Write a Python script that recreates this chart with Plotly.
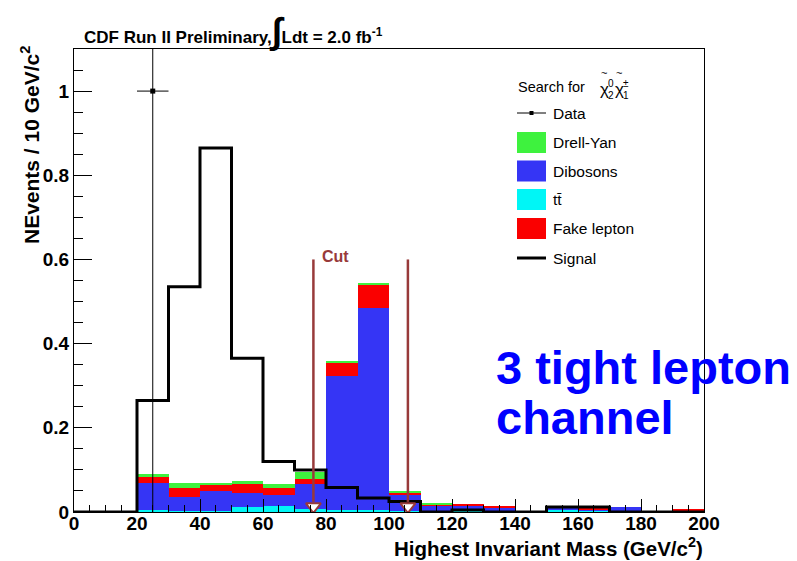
import plotly.graph_objects as go

# Histogram binning: 20 bins of 10 GeV/c^2 from 0 to 200
bin_edges = [0, 10, 20, 30, 40, 50, 60, 70, 80, 90, 100,
             110, 120, 130, 140, 150, 160, 170, 180, 190, 200]
bin_centers = [5, 15, 25, 35, 45, 55, 65, 75, 85, 95,
               105, 115, 125, 135, 145, 155, 165, 175, 185, 195]

# Stacked backgrounds (events / 10 GeV/c^2)
ttbar = [0, 0, 0.004, 0.003, 0.003, 0.012, 0.014, 0.008, 0.004, 0.004,
         0.003, 0.002, 0.005, 0.001, 0, 0.004, 0.002, 0.001, 0, 0]
dibosons = [0, 0, 0.064, 0.033, 0.047, 0.032, 0.026, 0.059, 0.320, 0.481,
            0.037, 0.013, 0.010, 0.010, 0, 0.007, 0.005, 0.011, 0, 0]
fake_lepton = [0, 0, 0.014, 0.022, 0.015, 0.022, 0.018, 0.011, 0.031, 0.055,
               0.007, 0.001, 0.004, 0.003, 0, 0, 0.001, 0, 0, 0.006]
drell_yan = [0, 0, 0.008, 0.010, 0.002, 0.008, 0.008, 0.018, 0.002, 0.005,
             0.001, 0.006, 0.0, 0.0, 0, 0, 0, 0, 0, 0]

# Signal expectation
signal = [0, 0, 0.265, 0.535, 0.865, 0.365, 0.12, 0.10, 0.058, 0.033,
          0.025, 0.0, 0.005, 0.0, 0.0, 0.012, 0.012, 0, 0, 0]

# Observed data
data_x = [25]
data_y = [1.0]
data_xerr = [5]
data_yerr_up = [1.5]
data_yerr_down = [1.0]

# Mass window cut
cut_values = [76, 106]
cut_top = 0.6

x_ticks = [0, 20, 40, 60, 80, 100, 120, 140, 160, 180, 200]
y_ticks = [0, 0.2, 0.4, 0.6, 0.8, 1.0]
y_tick_labels = ["0", "0.2", "0.4", "0.6", "0.8", "1"]

C_GREEN = "#3ef23e"
C_BLUE = "#3535f5"
C_CYAN = "#00f6f6"
C_RED = "#fa0000"
C_CUT = "#983a3a"
FONT = "Liberation Sans, Arial, sans-serif"

W, H = 797, 561
L, R, T, B = 74, 93, 49, 49
PW, PH = W - L - R, H - T - B


def px(x):
    return (x - L) / PW


def py(y):
    return (H - B - y) / PH


def label(x, y, text, size, color="black", xanchor="left", yanchor="middle", **kw):
    return dict(x=px(x), y=py(y), xref="paper", yref="paper", xanchor=xanchor,
                yanchor=yanchor, text=text, showarrow=False,
                font=dict(family=FONT, size=size, color=color), **kw)


fig = go.Figure()

for vals, col, name in [(ttbar, C_CYAN, "tt̄"), (dibosons, C_BLUE, "Dibosons"),
                        (fake_lepton, C_RED, "Fake lepton"),
                        (drell_yan, C_GREEN, "Drell-Yan")]:
    fig.add_trace(go.Bar(x=bin_centers, y=vals, width=10, name=name,
                         marker=dict(color=col, line=dict(width=0)),
                         showlegend=False))

# Signal as a step histogram
fig.add_trace(go.Scatter(x=bin_edges, y=signal + [signal[-1]], mode="lines",
                         line=dict(color="black", width=3, shape="hv"),
                         showlegend=False))

# Data point with error bars
fig.add_trace(go.Scatter(
    x=data_x, y=data_y, mode="markers",
    marker=dict(symbol="square", size=5, color="black"),
    error_x=dict(type="data", array=data_xerr, width=0, thickness=1, color="black"),
    error_y=dict(type="data", array=data_yerr_up, arrayminus=data_yerr_down,
                 width=0, thickness=1, color="black"),
    showlegend=False))

# Cut arrows
for c in cut_values:
    fig.add_trace(go.Scatter(x=[c, c], y=[cut_top, 0.024], mode="lines",
                             line=dict(color=C_CUT, width=2.5), showlegend=False))
    fig.add_trace(go.Scatter(x=[c], y=[0.013], mode="markers",
                             marker=dict(symbol="triangle-down", size=13, color="white",
                                         line=dict(color=C_CUT, width=2)),
                             showlegend=False))

annotations = [
    dict(x=sum(cut_values) / 2 - 8, y=cut_top + 0.007, xref="x", yref="y",
         text="<b>Cut</b>", showarrow=False, xanchor="center", yanchor="middle",
         font=dict(family=FONT, size=16, color=C_CUT)),
    label(82, 30, "<b>CDF Run II Preliminary,<span style='font-size:36px'>∫</span>"
                  "Ldt = 2.0 fb<sup>-1</sup></b>", 17),
    label(30, 44, "<b>NEvents / 10 GeV/c<sup>2</sup></b>", 21,
          xanchor="center", yanchor="top", textangle=-90),
    label(704, 547, "<b>Highest Invariant Mass (GeV/c<sup>2</sup>)</b>", 20.5,
          xanchor="right", borderpad=0),
    label(494, 367, "<b>3 tight lepton</b>", 47, color="#0000ff"),
    label(494, 417, "<b>channel</b>", 47, color="#0000ff"),
    # Legend header: Search for chi~0_2 chi~+-_1
    label(516, 87, "Search for", 14.5),
    label(604, 90, "χ", 17, xanchor="center"),
    label(604, 73, "~", 11, xanchor="center"),
    label(611, 83, "0", 10, xanchor="center"),
    label(611, 95, "2", 10, xanchor="center"),
    label(619, 90, "χ", 17, xanchor="center"),
    label(619, 73, "~", 11, xanchor="center"),
    label(626, 83, "±", 10, xanchor="center"),
    label(626, 95, "1", 10, xanchor="center"),
]

shapes = []
# Legend entries
legend_rows = [("Data", 113, "data"), ("Drell-Yan", 142.5, C_GREEN),
               ("Dibosons", 171, C_BLUE), ("tt̄", 199.5, C_CYAN),
               ("Fake lepton", 228.5, C_RED), ("Signal", 258, "signal")]
for text, yc, kind in legend_rows:
    annotations.append(label(551, yc, text, 15.5))
    if kind == "data":
        shapes.append(dict(type="line", xref="paper", yref="paper",
                           x0=px(517), x1=px(546), y0=py(yc), y1=py(yc),
                           line=dict(color="black", width=1)))
        shapes.append(dict(type="rect", xref="paper", yref="paper",
                           x0=px(529.5), x1=px(533.5), y0=py(yc + 2), y1=py(yc - 2),
                           fillcolor="black", line=dict(width=0)))
    elif kind == "signal":
        shapes.append(dict(type="line", xref="paper", yref="paper",
                           x0=px(517), x1=px(546), y0=py(yc), y1=py(yc),
                           line=dict(color="black", width=3)))
    else:
        shapes.append(dict(type="rect", xref="paper", yref="paper",
                           x0=px(517), x1=px(546), y0=py(yc + 10.5), y1=py(yc - 10.5),
                           fillcolor=kind, line=dict(width=0)))

tickfont = dict(family=FONT, size=19, color="black", weight="bold")

fig.update_layout(
    width=W, height=H,
    margin=dict(l=L, r=R, t=T, b=B),
    paper_bgcolor="white", plot_bgcolor="white",
    barmode="stack", bargap=0,
    showlegend=False,
    annotations=annotations,
    shapes=shapes,
    xaxis=dict(range=[0, 200], tickmode="array", tickvals=x_ticks,
               ticks="inside", ticklen=13, tickwidth=1, tickcolor="black",
               ticklabelstandoff=-6,
               minor=dict(dtick=5, tick0=0, ticks="inside", ticklen=7,
                          tickwidth=1, tickcolor="black", showgrid=False),
               showgrid=False, zeroline=False, showline=True, linecolor="black",
               linewidth=1, mirror=True, tickfont=tickfont),
    yaxis=dict(range=[0, 1.1], tickmode="array", tickvals=y_ticks, ticktext=y_tick_labels,
               ticks="inside", ticklen=18, tickwidth=1, tickcolor="black",
               minor=dict(dtick=0.05, tick0=0, ticks="inside", ticklen=9,
                          tickwidth=1, tickcolor="black", showgrid=False),
               showgrid=False, zeroline=False, showline=True, linecolor="black",
               linewidth=1, mirror=True, tickfont=tickfont),
)

fig.write_html("out.html")
